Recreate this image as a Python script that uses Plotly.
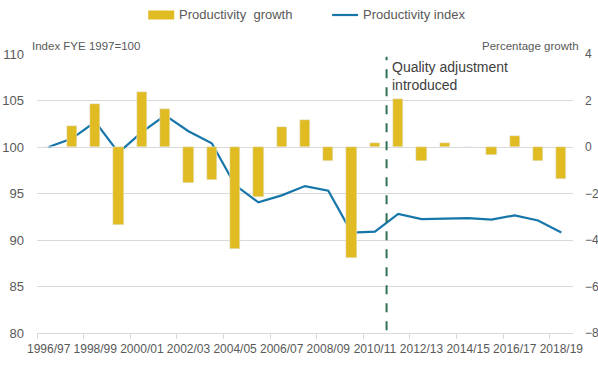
import plotly.graph_objects as go

years = ["1996/97","1997/98","1998/99","1999/00","2000/01","2001/02","2002/03","2003/04",
         "2004/05","2005/06","2006/07","2007/08","2008/09","2009/10","2010/11","2011/12",
         "2012/13","2013/14","2014/15","2015/16","2016/17","2017/18","2018/19"]
growth = [0.0, 0.9, 1.85, -3.34, 2.37, 1.63, -1.53, -1.4, -4.39, -2.14, 0.86, 1.16,
          -0.59, -4.76, 0.17, 2.06, -0.59, 0.17, 0.0, -0.33, 0.47, -0.59, -1.36]
index = [100.0, 100.9, 102.7, 99.4, 101.6, 103.4, 101.7, 100.4, 95.9, 94.05, 94.8, 95.8,
         95.3, 90.8, 90.9, 92.8, 92.25, 92.3, 92.35, 92.2, 92.65, 92.1, 90.8]
left_ticks = [80, 85, 90, 95, 100, 105, 110]
right_ticks = [-8, -6, -4, -2, 0, 2, 4]

GOLD = "#E1BB22"
BLUE = "#1676A9"
GREEN = "#2E7152"
GREY = "#595959"
FONT = "Liberation Sans"

W, H = 598, 369

xs = list(range(len(years)))

fig = go.Figure()
fig.add_trace(go.Bar(x=xs, y=growth, yaxis="y2", marker_color=GOLD, width=0.44,
                     name="Productivity growth", showlegend=False))
fig.add_trace(go.Scatter(x=xs, y=index, mode="lines", line=dict(color=BLUE, width=2.2),
                         name="Productivity index", showlegend=False))

# quality adjustment line between 2010/11 and 2011/12
qa_x = years.index("2011/12") - 0.5
fig.add_shape(type="line", x0=qa_x, x1=qa_x, xref="x", yref="paper", y0=0.01, y1=0.99,
              line=dict(color=GREEN, width=2, dash="dash"))
fig.add_annotation(x=qa_x, xref="x", y=1.0, yref="paper", xanchor="left", yanchor="top",
                   xshift=3, yshift=-3, text="Quality adjustment<br>introduced", showarrow=False,
                   align="left", font=dict(family=FONT, size=14, color="#404040"))

# plot area in window pixels
L, R, T, B = 36.7, 573.0, 54.0, 333.0
def px(x):
    return (x - L) / (R - L)
def py(y):
    return (B - y) / (B - T)

# legend (manual)
fig.add_shape(type="rect", xref="paper", yref="paper", x0=px(148), x1=px(174), y0=py(19.5), y1=py(10.5),
              fillcolor=GOLD, line_width=0)
fig.add_annotation(xref="paper", yref="paper", x=px(177), y=py(15), xanchor="left", yanchor="middle",
                   text="Productivity  growth", showarrow=False, font=dict(family=FONT, size=13, color=GREY))
fig.add_shape(type="line", xref="paper", yref="paper", x0=px(332), x1=px(358), y0=py(15), y1=py(15),
              line=dict(color=BLUE, width=2.2))
fig.add_annotation(xref="paper", yref="paper", x=px(361), y=py(15), xanchor="left", yanchor="middle",
                   text="Productivity index", showarrow=False, font=dict(family=FONT, size=13, color=GREY))

# axis titles
fig.add_annotation(xref="paper", yref="paper", x=px(30), y=py(46), xanchor="left", yanchor="middle",
                   text="Index FYE 1997=100", showarrow=False, font=dict(family=FONT, size=11.5, color=GREY))
fig.add_annotation(xref="paper", yref="paper", x=px(581), y=py(46), xanchor="right", yanchor="middle",
                   text="Percentage growth", showarrow=False, font=dict(family=FONT, size=11.5, color=GREY))

fig.update_layout(
    width=W, height=H,
    margin=dict(l=L, r=W - R, t=T, b=H - B, pad=0),
    paper_bgcolor="white", plot_bgcolor="white",
    font=dict(family=FONT, size=12, color=GREY),
    bargap=0,
    hovermode=False,
    xaxis=dict(range=[-0.5, len(years) - 0.5], tickmode="array",
               tickvals=xs[::2], ticktext=years[::2], ticks="", showgrid=False,
               showline=True, linecolor="#D9D9D9", linewidth=1, zeroline=False,
               tickangle=0, automargin=False, ticklabelstandoff=5,
               tickfont=dict(size=12, color=GREY),
               minor=dict(tickmode="array", tickvals=[v - 0.5 for v in xs[::2]],
                          ticks="outside", ticklen=5, tickcolor="#D9D9D9", showgrid=False)),
    yaxis=dict(range=[80, 110], tickvals=left_ticks, showgrid=True, gridcolor="#D9D9D9",
               gridwidth=1, zeroline=False, showline=False, ticks="", ticklabelstandoff=12,
               automargin=False, tickfont=dict(size=13, color=GREY)),
    yaxis2=dict(range=[-8, 4], tickvals=right_ticks, overlaying="y", side="right",
                showgrid=False, zeroline=False, showline=False, ticks="", automargin=False,
                tickfont=dict(size=12, color=GREY), ticklabelstandoff=11),
)

fig.write_html("out.html", config={"displayModeBar": False},
               post_script="document.body.style.margin='0';")
